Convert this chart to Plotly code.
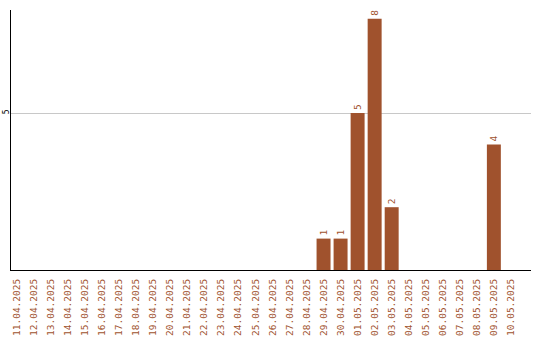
import plotly.graph_objects as go

dates = ["11.04.2025", "12.04.2025", "13.04.2025", "14.04.2025", "15.04.2025",
         "16.04.2025", "17.04.2025", "18.04.2025", "19.04.2025", "20.04.2025",
         "21.04.2025", "22.04.2025", "23.04.2025", "24.04.2025", "25.04.2025",
         "26.04.2025", "27.04.2025", "28.04.2025", "29.04.2025", "30.04.2025",
         "01.05.2025", "02.05.2025", "03.05.2025", "04.05.2025", "05.05.2025",
         "06.05.2025", "07.05.2025", "08.05.2025", "09.05.2025", "10.05.2025"]
values = [0, 0, 0, 0, 0, 0, 0, 0, 0, 0,
          0, 0, 0, 0, 0, 0, 0, 0, 1, 1,
          5, 8, 2, 0, 0, 0, 0, 0, 4, 0]

color = "#A0522D"
labels = [str(v) if v else "" for v in values]

fig = go.Figure(go.Bar(
    x=dates, y=values, text=labels, textposition="outside", textangle=-90,
    textfont=dict(family="DejaVu Sans Mono", size=9.5, color=color),
    marker=dict(color=color, line=dict(width=0)), cliponaxis=False,
))
fig.update_layout(
    width=540, height=340, margin=dict(l=11, r=9, t=10, b=70),
    plot_bgcolor="white", paper_bgcolor="white", bargap=0.18,
    showlegend=False,
    font=dict(family="DejaVu Sans Mono"),
)
fig.update_xaxes(type="category", tickangle=-90, showline=True, linecolor="black",
                 linewidth=1, ticks="", showgrid=False, automargin=False,
                 range=[-0.35, 30.18], ticklabelstandoff=4,
                 tickfont=dict(family="DejaVu Sans Mono", size=9.5, color=color))
fig.update_yaxes(range=[0, 8.28], showline=True, linecolor="black",
                 linewidth=1, gridcolor="#c8c8c8", gridwidth=1, zeroline=False,
                 tickangle=-90, ticks="", automargin=False,
                 tickfont=dict(family="DejaVu Sans Mono", size=8, color="black"),
                 tickvals=[5], ticktext=["5"], ticklabelstandoff=-2)
fig.write_html("out.html")
